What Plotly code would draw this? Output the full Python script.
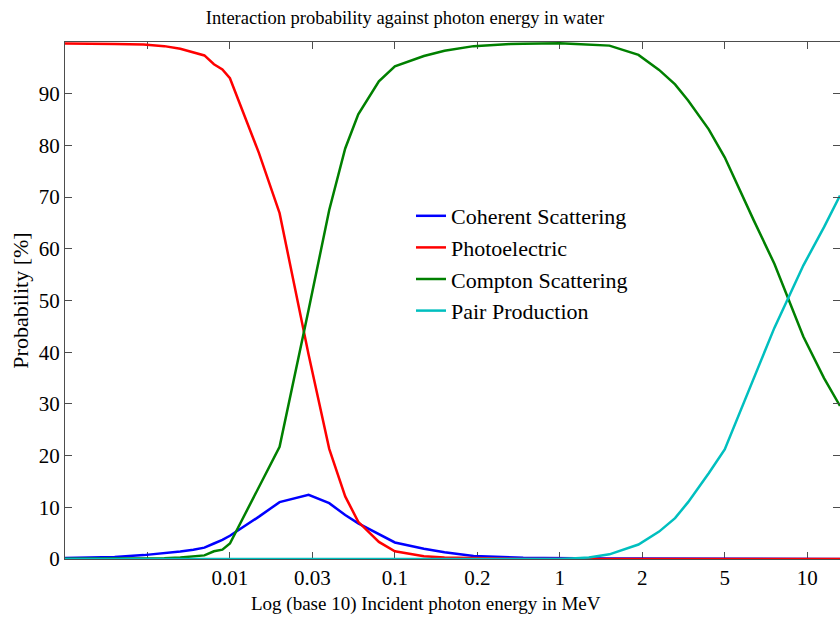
import plotly.graph_objects as go

energy_mev = [0.001, 0.0015, 0.002, 0.003, 0.004, 0.005, 0.006, 0.007, 0.008, 0.009,
              0.01, 0.015, 0.02, 0.03, 0.04, 0.05, 0.06, 0.08, 0.1, 0.15, 0.2, 0.3,
              0.4, 0.5, 0.6, 0.8, 1, 1.25, 1.5, 2, 3, 4, 5, 6, 8, 10, 15, 20, 30, 40, 50]

coherent = [0.2, 0.25, 0.4, 0.75, 1.1, 1.45, 1.8, 2.2, 3.0, 3.7,
            4.5, 8.2, 11.0, 12.4, 10.8, 8.5, 6.9, 4.8, 3.2, 2.0, 1.3, 0.6,
            0.4, 0.3, 0.25, 0.2, 0.15, 0.12, 0.1, 0.1, 0.08, 0.07, 0.06, 0.05, 0.04, 0.03, 0.03, 0.02, 0.02, 0.01, 0.01]

photoelectric = [99.7, 99.7, 99.6, 99.5, 99.2, 98.7, 98.0, 97.4, 95.7, 94.7,
                 93.0, 78.5, 66.9, 39.5, 21.3, 12.1, 7.2, 3.3, 1.5, 0.55, 0.3, 0.12,
                 0.05, 0.03, 0.02, 0.01, 0.01, 0.0, 0.0, 0.0, 0.0, 0.0, 0.0, 0.0, 0.0, 0.0, 0.0, 0.0, 0.0, 0.0, 0.0]

compton = [0.05, 0.05, 0.05, 0.1, 0.15, 0.3, 0.5, 0.7, 1.5, 1.8,
           3.0, 14.0, 21.7, 48.2, 67.5, 79.4, 86.0, 92.4, 95.3, 97.3, 98.3, 99.2,
           99.5, 99.6, 99.65, 99.7, 99.75, 99.6, 99.5, 99.3, 97.5, 94.6, 91.8, 88.7, 83.1, 77.7, 65.5, 57.1, 43.0, 35.0, 29.6]

pair = [0.0] * 27 + [0.15, 0.3, 0.9, 2.8, 5.3, 7.9, 11.0, 16.6, 21.2, 34.8, 44.7, 56.8, 64.2, 70.3]

series_names = ["Coherent Scattering", "Photoelectric", "Compton Scattering", "Pair Production"]
series_values = [coherent, photoelectric, compton, pair]
series_colors = ["#0000ff", "#ff0000", "#008000", "#00bfbf"]

tick_vals = [10 ** -2.5, 10 ** -2, 10 ** -1.5, 10 ** -1, 10 ** -0.5, 1, 10 ** 0.5, 10, 10 ** 1.5]
tick_text = ["", "0.01", "0.03", "0.1", "0.2", "1", "2", "5", "10"]
y_ticks = [0, 10, 20, 30, 40, 50, 60, 70, 80, 90]

FONT = "Liberation Serif"
AX = "#4d4d4d"

fig = go.Figure()
for name, vals, col in zip(series_names, series_values, series_colors):
    fig.add_trace(go.Scatter(x=energy_mev, y=vals, mode="lines", name=name,
                             line=dict(color=col, width=2.5)))
# invisible trace to host right-side tick marks
fig.add_trace(go.Scatter(x=[None], y=[None], yaxis="y2", showlegend=False, hoverinfo="skip"))

fig.update_layout(
    width=840, height=619,
    margin=dict(l=65, r=0, t=42, b=60),
    paper_bgcolor="white", plot_bgcolor="white",
    font=dict(family=FONT, size=21, color="black"),
    title=dict(text="Interaction probability against photon energy in water",
               x=405 / 840, xref="container", xanchor="center",
               y=1 - 18 / 619, yref="container", yanchor="middle",
               font=dict(family=FONT, size=18.5, color="black")),
    xaxis=dict(type="log", range=[-3, 1.69897], tickvals=tick_vals, ticktext=tick_text,
               ticks="inside", ticklen=7, tickcolor=AX, showline=True, linecolor=AX,
               linewidth=1, mirror="ticks", showgrid=False, zeroline=False,
               layer="below traces", tickfont=dict(family=FONT, size=21)),
    yaxis=dict(range=[0, 100], tickvals=y_ticks, ticks="inside", ticklen=7, tickcolor=AX,
               showline=True, linecolor=AX, linewidth=1, mirror=False, showgrid=False,
               zeroline=False, layer="below traces", tickfont=dict(family=FONT, size=21),
               title=dict(text="Probability [%]", standoff=4, font=dict(family=FONT, size=22))),
    yaxis2=dict(range=[0, 100], tickvals=y_ticks, overlaying="y", side="right",
                ticks="inside", ticklen=7, tickcolor=AX, showline=False, showgrid=False,
                zeroline=False, showticklabels=False),
    legend=dict(x=(411 - 65) / 775, y=(559 - 195) / 517, xanchor="left", yanchor="top",
                bgcolor="rgba(0,0,0,0)", borderwidth=0,
                font=dict(family=FONT, size=22, color="black")),
    showlegend=True,
    annotations=[dict(text="Log (base 10) Incident photon energy in MeV",
                      xref="paper", yref="paper", x=(426 - 65) / 775, y=-(604 - 559) / 517,
                      xanchor="center", yanchor="middle", showarrow=False,
                      font=dict(family=FONT, size=19, color="black"))],
)

fig.write_html("out.html")
